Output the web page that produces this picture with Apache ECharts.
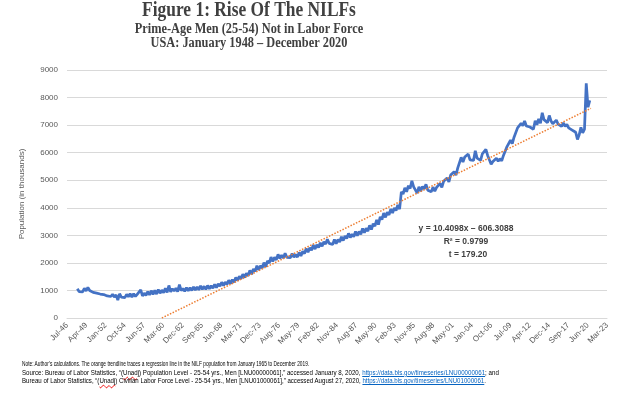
<!DOCTYPE html>
<html>
<head>
<meta charset="utf-8">
<script src="https://cdn.jsdelivr.net/npm/echarts@6/dist/echarts.min.js"></script>
<style>
  html, body { margin: 0; padding: 0; background: #fff; }
  #chart { width: 640px; height: 398px; }
  .note {
    position: absolute;
    left: 22px;
    top: 360px;
    font-family: 'Liberation Sans', sans-serif;
    font-size: 7.8px;
    line-height: 8.7px;
    color: #000;
  }
  .note div { white-space: nowrap; transform-origin: 0 0; }
  .note .link { color: #0563C1; text-decoration: underline; }
  .note .spell { text-decoration: underline wavy #e00 1px; }
</style>
</head>
<body>
<div id="chart"></div>
<div class="note">
  <div data-w="373">Note: Author’s calculations. The orange trendline traces a regression line in the NILF population from January 1965 to December 2019.</div>
  <div data-w="477">Source: Bureau of Labor Statistics, “(<span class="spell">Unadj</span>) Population Level - 25-54 yrs., Men [LNU00000061],” accessed January 8, 2020, <span class="link">https://data.bls.gov/timeseries/LNU00000061</span>; and</div>
  <div data-w="473">Bureau of Labor Statistics, “(<span class="spell">Unadj</span>) Civilian Labor Force Level - 25-54 yrs., Men [LNU01000061],” accessed August 27, 2020, <span class="link">https://data.bls.gov/timeseries/LNU01000061</span>.</div>
</div>
<script>
// x tick labels, one every 1000 days from the axis origin
const tickLabels = ['Jul-46', 'Apr-49', 'Jan-52', 'Oct-54', 'Jun-57', 'Mar-60', 'Dec-62', 'Sep-65',
  'Jun-68', 'Mar-71', 'Dec-73', 'Aug-76', 'May-79', 'Feb-82', 'Nov-84', 'Aug-87', 'May-90',
  'Feb-93', 'Nov-95', 'Aug-98', 'May-01', 'Jan-04', 'Oct-06', 'Jul-09', 'Apr-12', 'Dec-14',
  'Sep-17', 'Jun-20', 'Mar-23']

const firstYear = 1948
const quarterMonths = [0, 3, 6, 9] // Jan, Apr, Jul, Oct

// NILF prime-age men (thousands), one row per year (Jan/Apr/Jul/Oct)
const nilf = [
  [1060, 960, 1010, 950],   // 1948
  [1080, 980, 1110, 1000],
  [1040, 930, 990, 900],    // 1950
  [960, 870, 930, 850],
  [900, 800, 870, 780],
  [860, 760, 840, 650],
  [880, 760, 830, 740],
  [860, 770, 880, 760],     // 1955
  [880, 780, 860, 800],
  [1020, 800, 900, 820],
  [960, 840, 990, 860],
  [1000, 870, 1030, 900],
  [1010, 920, 1080, 930],   // 1960
  [1180, 950, 1060, 980],
  [1080, 960, 1210, 990],
  [1070, 970, 1100, 990],
  [1100, 1000, 1130, 1010],
  [1130, 1020, 1170, 1040], // 1965
  [1150, 1040, 1180, 1060],
  [1170, 1080, 1220, 1100],
  [1240, 1150, 1300, 1180],
  [1300, 1220, 1370, 1250],
  [1390, 1300, 1470, 1360], // 1970
  [1510, 1420, 1590, 1470],
  [1620, 1530, 1730, 1590],
  [1780, 1690, 1900, 1740],
  [1900, 1810, 2010, 1860],
  [2070, 1990, 2210, 2050], // 1975
  [2200, 2110, 2310, 2160],
  [2280, 2180, 2350, 2200],
  [2270, 2190, 2340, 2210],
  [2300, 2210, 2380, 2250],
  [2420, 2340, 2520, 2390], // 1980
  [2550, 2460, 2650, 2500],
  [2660, 2560, 2730, 2600],
  [2770, 2680, 2860, 2710],
  [2750, 2670, 2850, 2700],
  [2850, 2760, 2950, 2810], // 1985
  [2980, 2880, 3070, 2920],
  [3040, 2950, 3140, 2990],
  [3140, 3040, 3250, 3090],
  [3260, 3150, 3360, 3210],
  [3420, 3330, 3560, 3390], // 1990
  [3670, 3570, 3810, 3650],
  [3840, 3740, 3950, 3810],
  [3990, 3900, 4100, 3950],
  [4580, 4500, 4720, 4580],
  [4800, 4700, 4980, 4760], // 1995
  [4690, 4530, 4760, 4600],
  [4770, 4680, 4850, 4640],
  [4680, 4580, 4750, 4600],
  [4740, 4690, 4880, 4740],
  [4960, 4900, 5080, 4940], // 2000
  [5190, 5120, 5310, 5180],
  [5440, 5420, 5830, 5660],
  [5840, 5770, 5950, 5740],
  [5800, 5720, 6070, 5800],
  [5800, 5720, 5960, 5900], // 2005
  [6120, 5900, 5740, 5580],
  [5680, 5620, 5800, 5690],
  [5780, 5700, 5900, 5960],
  [6220, 6240, 6450, 6330],
  [6560, 6540, 6900, 6950], // 2010
  [7060, 6980, 7150, 6970],
  [7040, 6930, 6860, 6850],
  [7160, 7010, 7230, 7070],
  [7450, 7200, 7160, 7090],
  [7350, 7150, 7050, 7000], // 2015
  [7180, 7040, 7100, 6950],
  [7080, 6950, 7030, 6900],
  [6960, 6820, 6800, 6740],
  [6480, 6650, 6920, 6720],
  [6850, 8520, 7650, 7900]  // 2020
]

// trendline end points [year, month index], values
const trendDates = [[1960, 0], [2020, 11]]
const trendValues = [0, 7610]

const origin = Date.UTC(1946, 6, 15)
const toDays = (y, m) => (Date.UTC(y, m, 1) - origin) / 86400000

const nilfData = []
nilf.forEach((row, i) => {
  row.forEach((v, q) => {
    nilfData.push([toDays(firstYear + i, quarterMonths[q]), v])
  })
})
const trendData = trendDates.map((d, i) => [toDays(d[0], d[1]), trendValues[i]])

const axisFont = 'Liberation Sans'
const chart = echarts.init(document.getElementById('chart'))
chart.setOption({
  animation: false,
  grid: { left: 67, right: 33, top: 70, bottom: 80, containLabel: false },
  xAxis: {
    type: 'value',
    min: 0,
    max: 28000,
    interval: 1000,
    axisLine: { show: true, lineStyle: { color: '#d9d9d9', width: 1 } },
    axisTick: { show: false },
    splitLine: { show: false },
    axisLabel: {
      rotate: 45,
      margin: 6,
      fontSize: 8,
      fontFamily: axisFont,
      color: '#595959',
      showMinLabel: true,
      showMaxLabel: true,
      formatter: v => tickLabels[Math.round(v / 1000)] || ''
    }
  },
  yAxis: {
    type: 'value',
    min: 0,
    max: 9000,
    interval: 1000,
    name: 'Population (in thousands)',
    nameLocation: 'middle',
    nameGap: 41,
    nameTextStyle: { fontSize: 8, fontFamily: axisFont, color: '#595959' },
    axisLine: { show: false },
    axisTick: { show: false },
    splitLine: { lineStyle: { color: '#d9d9d9', width: 1 } },
    axisLabel: { fontSize: 8, fontFamily: axisFont, color: '#595959', margin: 9, formatter: v => String(v) }
  },
  series: [
    {
      type: 'line',
      data: nilfData,
      showSymbol: false,
      lineStyle: { color: '#4472C4', width: 2.75 },
      z: 2
    },
    {
      type: 'line',
      data: trendData,
      showSymbol: false,
      lineStyle: { color: '#ED7D31', width: 1.5, type: [1.5, 1.5] },
      z: 3
    }
  ],
  graphic: [
    {
      type: 'text', x: 249, y: 11, scaleX: 0.87,
      style: { text: 'Figure 1: Rise Of The NILFs', font: 'bold 20px "Liberation Serif"', fill: '#404040', textAlign: 'center', textVerticalAlign: 'middle' }
    },
    {
      type: 'text', x: 249, y: 29, scaleX: 0.88,
      style: { text: 'Prime-Age Men (25-54) Not in Labor Force', font: 'bold 14px "Liberation Serif"', fill: '#404040', textAlign: 'center', textVerticalAlign: 'middle' }
    },
    {
      type: 'text', x: 249, y: 43.5, scaleX: 0.88,
      style: { text: 'USA: January 1948 – December 2020', font: 'bold 14px "Liberation Serif"', fill: '#404040', textAlign: 'center', textVerticalAlign: 'middle' }
    },
    {
      type: 'text', x: 466, y: 229,
      style: { text: 'y = 10.4098x – 606.3088', font: 'bold 8.5px "Liberation Sans"', fill: '#404040', textAlign: 'center', textVerticalAlign: 'middle' }
    },
    {
      type: 'text', x: 466, y: 241.7,
      style: { text: 'R² = 0.9799', font: 'bold 8.5px "Liberation Sans"', fill: '#404040', textAlign: 'center', textVerticalAlign: 'middle' }
    },
    {
      type: 'text', x: 468, y: 254.3,
      style: { text: 't = 179.20', font: 'bold 8.5px "Liberation Sans"', fill: '#404040', textAlign: 'center', textVerticalAlign: 'middle' }
    }
  ]
})

// squeeze each footnote line to the width it has in the reference
document.querySelectorAll('.note div').forEach(el => {
  const w = el.scrollWidth
  el.style.transform = 'scaleX(' + (Number(el.dataset.w) / w) + ')'
})
</script>
</body>
</html>
